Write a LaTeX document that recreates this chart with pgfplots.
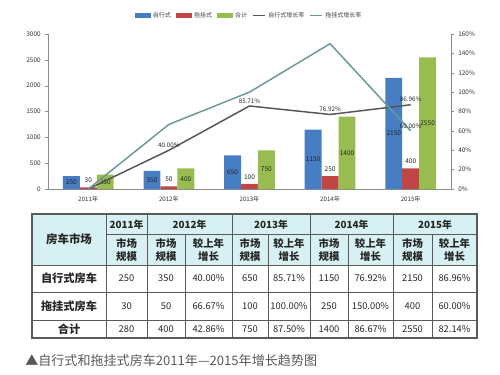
\documentclass[border=0pt]{standalone}
\usepackage{fontspec}
\setmainfont{Noto Sans CJK SC}
\usepackage{pgfplots}
\pgfplotsset{compat=1.18}
\definecolor{cblue}{RGB}{70,125,195}
\definecolor{cred}{RGB}{192,70,70}
\definecolor{cgreen}{RGB}{152,188,80}
\definecolor{cdark}{RGB}{85,85,85}
\definecolor{cteal}{RGB}{105,152,152}
\definecolor{chead}{RGB}{214,240,243}
\definecolor{caxis}{RGB}{140,140,140}
\definecolor{ctab}{RGB}{90,90,90}
\begin{document}
\begin{tikzpicture}
\path[use as bounding box] (0,0) rectangle (375pt,-281.25pt);

\begin{axis}[
  at={(36pt,-141.75pt)}, anchor=south west,
  scale only axis, width=302.25pt, height=116.25pt,
  xmin=-0.5, xmax=4.5, ymin=0, ymax=3000,
  axis x line*=bottom, axis y line*=left,
  axis line style={caxis, line width=0.5pt, -},
  xtick={0,...,4}, xticklabels={2011年,2012年,2013年,2014年,2015年},
  xtick style={draw=none},
  ytick={0,500,...,3000},
  ytick style={caxis},
  tick align=outside, major tick length=2pt,
  yticklabel style={font=\fontsize{4.8}{6}\selectfont, text=black!80},
  xticklabel style={font=\fontsize{4.6}{6}\selectfont, text=black!80},
  /pgf/number format/assume math mode=true,
  /pgf/number format/1000 sep={},
  ybar=0pt, bar width=0.21,
  nodes near coords,
  every node near coord/.append style={font=\fontsize{4.9}{6}\selectfont, text=black!85},
  clip=false,
]
\addplot[fill=cblue, draw=none,
  visualization depends on=rawy\as\rawy,
  every node near coord/.append style={anchor=center, yshift={-0.019375pt*\rawy}}]
  coordinates {(0,250) (1,350) (2,650) (3,1150) (4,2150)};
\addplot[fill=cred, draw=none]
  coordinates {(0,30) (1,50) (2,100) (3,250) (4,400)};
\addplot[fill=cgreen, draw=none,
  visualization depends on=rawy\as\rawy,
  every node near coord/.append style={anchor=center, yshift={-0.019375pt*\rawy}}]
  coordinates {(0,280) (1,400) (2,750) (3,1400) (4,2550)};
\end{axis}

\begin{axis}[
  at={(36pt,-141.75pt)}, anchor=south west,
  scale only axis, width=302.25pt, height=116.25pt,
  xmin=-0.5, xmax=4.5, ymin=0, ymax=160,
  axis x line=none, axis y line*=right,
  axis line style={caxis, line width=0.5pt, -},
  ytick={0,20,...,160},
  yticklabel={\pgfmathprintnumber{\tick}\%},
  ytick style={caxis},
  tick align=outside, major tick length=2pt,
  yticklabel style={font=\fontsize{4.8}{6}\selectfont, text=black!80},
  /pgf/number format/assume math mode=true,
  legend image code/.code={\draw[#1, line width=0.8pt] (0pt,0pt) -- (9pt,0pt);},
  legend style={at={(0.5,1)}, anchor=south, yshift=9pt, draw=none, fill=none,
    font=\fontsize{4.5}{5}\selectfont, text=black!75, legend columns=5,
    /tikz/every even column/.append style={column sep=2pt},
    inner sep=0pt},
  clip=false,
]
\addlegendimage{legend image code/.code={\fill[cblue] (0pt,-1.5pt) rectangle (11pt,1.5pt);}}
\addlegendentry{自行式}
\addlegendimage{legend image code/.code={\fill[cred] (0pt,-1.5pt) rectangle (11pt,1.5pt);}}
\addlegendentry{拖挂式}
\addlegendimage{legend image code/.code={\fill[cgreen] (0pt,-1.5pt) rectangle (11pt,1.5pt);}}
\addlegendentry{合计}
\addplot[cdark, line width=1.1pt, mark=none, nodes near coords, point meta=explicit symbolic,
  every node near coord/.append style={font=\fontsize{4.7}{6}\selectfont, text=black!85, anchor=south, inner sep=1.5pt}]
  coordinates {(0,0)[] (1,40)[40.00\%] (2,85.71)[85.71\%] (3,76.92)[76.92\%] (4,86.96)[86.96\%]};
\addlegendentry{自行式增长率}
\addplot[cteal, line width=1.1pt, mark=none, nodes near coords, point meta=explicit symbolic,
  every node near coord/.append style={font=\fontsize{4.7}{6}\selectfont, text=black!85, anchor=south, inner sep=1.5pt}]
  coordinates {(0,0)[] (1,66.67)[] (2,100)[] (3,150)[] (4,60)[60.00\%]};
\addlegendentry{拖挂式增长率}
\end{axis}

\begin{scope}[x=0.75pt,y=-0.75pt]
\fill[chead] (32,214) rectangle (477,265);
\draw[ctab, line width=0.6pt] (106,234) -- (477,234);
\foreach \yy in {265,292,320} {\draw[ctab, line width=0.6pt] (32,\yy) -- (477,\yy);}
\foreach \xx in {106,147,232,310,393} {\draw[ctab, line width=0.6pt] (\xx,214) -- (\xx,338);}
\foreach \xx in {185,268,348,432} {\draw[ctab, line width=0.6pt] (\xx,234) -- (\xx,338);}
\draw[ctab, line width=1pt] (32,214) rectangle (477,338);
\begin{scope}[every node/.style={inner sep=0pt, text=black!85, align=center}]
\node[font=\bfseries\fontsize{8.6}{9}\selectfont] at (69,239.5) {房车市场};
\foreach \xx/\yr in {126.5/2011,189.5/2012,271/2013,351.5/2014,435/2015}
  {\node[font=\bfseries\fontsize{7.4}{8}\selectfont] at (\xx,224.5) {\yr 年};}
\foreach \xx in {126.5,166,250,329,412.5}
  {\node[font=\bfseries\fontsize{7.8}{9.5}\selectfont] at (\xx,250) {市场\\规模};}
\foreach \xx in {208.5,289,370.5,454.5}
  {\node[font=\bfseries\fontsize{7.8}{9.5}\selectfont] at (\xx,250) {较上年\\增长};}
\node[font=\bfseries\fontsize{8.4}{9}\selectfont] at (69,278.5) {自行式房车};
\node[font=\bfseries\fontsize{8.4}{9}\selectfont] at (69,306) {拖挂式房车};
\node[font=\bfseries\fontsize{8.4}{9}\selectfont] at (69,329) {合计};
\foreach \xx/\v in {126.5/250,166/350,208.5/40.00\%,250/650,289/85.71\%,329/1150,370.5/76.92\%,412.5/2150,454.5/86.96\%}
  {\node[font=\fontsize{7}{8}\selectfont] at (\xx,278.5) {\v};}
\foreach \xx/\v in {126.5/30,166/50,208.5/66.67\%,250/100,289/100.00\%,329/250,370.5/150.00\%,412.5/400,454.5/60.00\%}
  {\node[font=\fontsize{7}{8}\selectfont] at (\xx,306) {\v};}
\foreach \xx/\v in {126.5/280,166/400,208.5/42.86\%,250/750,289/87.50\%,329/1400,370.5/86.67\%,412.5/2550,454.5/82.14\%}
  {\node[font=\fontsize{7}{8}\selectfont] at (\xx,329) {\v};}
\end{scope}
\node[anchor=west, inner sep=0pt, font=\fontsize{9.8}{11}\selectfont, text=black!65] at (25,361) {▲自行式和拖挂式房车2011年—2015年增长趋势图};
\end{scope}
\end{tikzpicture}
\end{document}
